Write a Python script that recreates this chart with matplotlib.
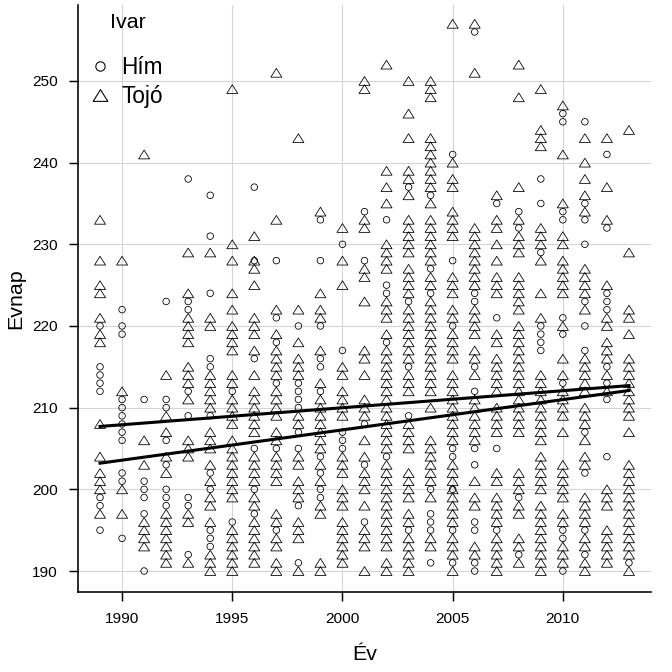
import numpy as np
import matplotlib
matplotlib.use("Agg")
import matplotlib.pyplot as plt
from matplotlib.lines import Line2D
from matplotlib.path import Path

plt.rcParams['font.family'] = ['Liberation Sans', 'DejaVu Sans']

# Years and the day values ("a-b" = every day from a to b)
years = list(range(1989, 2014))

him_days = [
    "220 215 214 213 212 199 198 195",
    "222 220 219 211 210 209 208 207 206 202 201 194",
    "211 201 200 199 197 190",
    "223 211 210 206 203 200 199 198",
    "238 223 222 212 209 199 198 192",
    "236 231 224 216 215 209 202 200 195 194 193",
    "212 196",
    "237 228 216 205 200 197",
    "228 221 218 213 205 195",
    "220 210-213 207 205 198 191",
    "233 228 220 216 215 212 204 202 200 199",
    "230 217 205-207",
    "234 228 208 203 196",
    "233 225 224 218 204",
    "237 223 215 209 195",
    "236 227 224 200 197 196 195 191",
    "241 228 220 205 204 200 195 191",
    "256 224 223 215 212 205 203 196 195 191 190",
    "235 221 205 195",
    "234 232 199 192",
    "238 235 229 217-220",
    "246 245 234 233 221 219 213 195 194 190",
    "245 235 233 230 223 220 217 207 202 195 192",
    "241 232 224 223 222 215 213 211 204",
    "191",
]

tojo_days = [
    "233 228 225 224 221 219 218 208 204 202 201 200 197",
    "228 212 200 197",
    "241 206 203 196 195 194 193",
    "214 209 207 204 202 191-197",
    "229 224 221 220 219 218 215 214 213 211 206 205 204 197 196 191",
    "229 221 220 210-214 205-207 203 201 199 198 196 190-192",
    "249 230 228 224 222 217-220 213 214 208-211 199-206 190-195",
    "231 228 227 225 221 220 219 217 214 207-212 201-204 199 198 191-196",
    "251 233 222 219 214-217 209-212 206 207 201-204 197 196 194 193 191 190",
    "243 222 218 214-216 209 208 204 203 199-201 194-196 190",
    "234 224 222 221 217 213 207-211 205 206 203 201 198 197 191 190",
    "232 228 225 215 214 209-212 202-204 198-200 191-196",
    "250 249 233 232 227 226 223 217 216 214 209-211 206 204 200-202 198 193-195 190",
    "252 239 237 235 227-230 221-223 219 205-217 193-203 191 190",
    "250 246 243 239 238 236 229-233 224-227 221 222 216-220 212-214 205-208 199-202 196 197 190-194",
    "248-250 237-243 235 228-233 225 226 212-223 210 201-206 199 193 194",
    "257 240 238 237 231-234 224-226 221 222 216-219 206-214 196-203 192-194 190",
    "257 251 225-232 219-222 216 217 214 206-211 201 198 199 192 193",
    "236 233 232 230 228 224-226 218 219 212-216 207-210 201 202 196-199 190-194",
    "252 248 237 233 229-231 224-226 222 223 207-220 200-202 197 198 193 194 191",
    "249 242-244 228 230-232 224 221 206-214 200-204 190-198",
    "247 241 235 231 230 224-228 220 216 214 209-212 207 199-203 196 197 191-193",
    "243 240 238 236 234 224-227 222 212-216 208-210 206 203 204 196-199 193 194 190 191",
    "243 237 233 225 220 221 217 218 216 214 212 198-200 191-195",
    "244 229 222 221 219 209-216 207 192-203 190",
]

# fitted lines, end values
fit_years = [1989, 2013]
him_fit = [203.2, 212.1]
tojo_fit = [207.7, 212.7]


def parse_days(text):
    out = []
    for tok in text.split():
        if "-" in tok:
            a, b = tok.split("-")
            out.extend(range(int(a), int(b) + 1))
        else:
            out.append(int(tok))
    return out


def expand(day_lists):
    xs, ys = [], []
    for yr, txt in zip(years, day_lists):
        d = parse_days(txt)
        xs.extend([yr] * len(d))
        ys.extend(d)
    return np.array(xs), np.array(ys)


him_x, him_y = expand(him_days)
tojo_x, tojo_y = expand(tojo_days)

fig = plt.figure(figsize=(7, 7), dpi=96)
ax = fig.add_axes([78 / 672, 80 / 672, 573 / 672, 587 / 672])

# open triangle, a bit flatter than matplotlib's '^'
tri = Path([(-1, -0.8), (1, -0.8), (0, 0.8), (-1, -0.8)],
           [Path.MOVETO, Path.LINETO, Path.LINETO, Path.CLOSEPOLY])

ax.scatter(him_x, him_y, s=24, marker='o', facecolors='none',
           edgecolors='black', linewidths=0.6, zorder=3)
ax.scatter(tojo_x, tojo_y, s=68, marker=tri, facecolors='none',
           edgecolors='black', linewidths=0.6, zorder=3)

ax.plot(fit_years, him_fit, color='black', lw=2.3, zorder=4)
ax.plot(fit_years, tojo_fit, color='black', lw=2.3, zorder=4)

ax.set_xlim(1988.0, 2014.0)
ax.set_ylim(187.43, 259.3)
ax.set_xticks([1990, 1995, 2000, 2005, 2010])
ax.set_yticks(np.arange(190, 251, 10))
ax.grid(True, color='#d4d4d4', lw=0.8)
ax.set_axisbelow(True)

for s in ['top', 'right']:
    ax.spines[s].set_visible(False)
for s in ['left', 'bottom']:
    ax.spines[s].set_linewidth(1.2)
ax.tick_params(length=7, width=1.1, labelsize=11.5, pad=8, colors='black')

ax.set_xlabel("Év", fontsize=16, labelpad=14)
ax.set_ylabel("Evnap", fontsize=16, labelpad=5)

handles = [
    Line2D([], [], ls='none', marker='o', ms=7, mfc='none', mec='black', mew=0.8),
    Line2D([], [], ls='none', marker=tri, ms=11, mfc='none', mec='black', mew=0.8),
]
leg = ax.legend(handles, ["Hím", "Tojó"], loc='upper left',
                bbox_to_anchor=(0.0197, 0.913), frameon=False, fontsize=17,
                handlelength=0.95, handletextpad=0.45, labelspacing=0.28,
                borderaxespad=0.0, borderpad=0.0)
ax.text(32 / 573, 1 - 17 / 587, "Ivar", transform=ax.transAxes,
        fontsize=16, ha='left', va='center')

fig.savefig("out.png", dpi=96)
